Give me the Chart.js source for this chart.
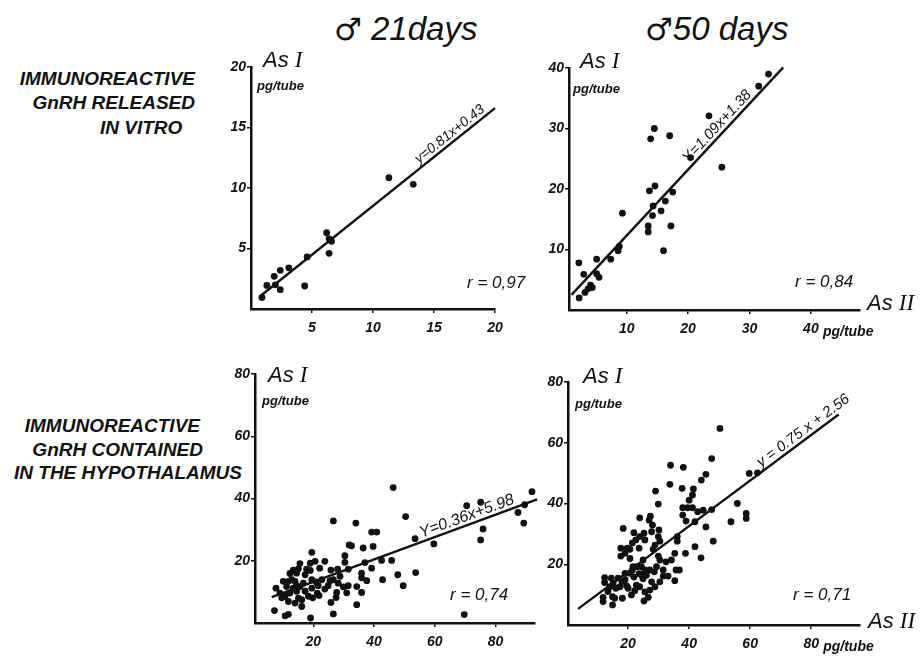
<!DOCTYPE html>
<html>

<head>
  <title>GnRH As I / As II</title>
  <script src="https://cdn.jsdelivr.net/npm/chart.js@4.4.0/dist/chart.umd.min.js"></script>
  <style>
    body { margin: 0; background: #fff; overflow: hidden; }
    #page { position: relative; width: 921px; height: 657px; overflow: hidden; font-family: "Liberation Sans", Arial, sans-serif; }
    #page canvas { position: absolute; }
    .lbl { position: absolute; white-space: nowrap; font-style: italic; font-weight: bold; font-size: 19px; color: #111; text-align: right; }
    .ttl { position: absolute; white-space: nowrap; font-style: italic; font-size: 33px; color: #111; }
    .ttl span { font-family: "DejaVu Sans"; font-style: normal; font-size: 31px; }
  </style>
</head>

<body>
  <div id="page">
    <div class="ttl" style="left:334px; top:10px;"><span>♂</span> 21days</div>
    <div class="ttl" style="left:645px; top:10px;"><span>♂</span>50 days</div>

    <div class="lbl" style="right:726px; top:68px;">IMMUNOREACTIVE</div>
    <div class="lbl" style="right:726px; top:92px;">GnRH RELEASED</div>
    <div class="lbl" style="left:100px; top:117px;">IN VITRO</div>

    <div class="lbl" style="right:721px; top:415px;">IMMUNOREACTIVE</div>
    <div class="lbl" style="right:718px; top:439px;">GnRH CONTAINED</div>
    <div class="lbl" style="right:679px; top:462px;">IN THE HYPOTHALAMUS</div>
  </div>

  <script>
    // 21 jours, GnRH libérée in vitro
    const p1X = [0.9, 1.3, 1.9, 2.0, 2.4, 2.4, 3.1, 4.4, 4.6, 6.2, 6.4, 6.6, 6.4, 11.3, 13.3];
    const p1Y = [0.95, 1.95, 2.7, 2.0, 3.2, 1.6, 3.4, 1.9, 4.3, 6.3, 5.8, 5.6, 4.6, 10.85, 10.3];
    const p1Fit = [[0.8, 1.1], [20, 16.6]];

    // 50 jours, GnRH libérée in vitro
    const p2X = [2.2, 2.25, 3.0, 3.2, 3.7, 4.1, 4.4, 5.1, 5.1, 5.5, 7.4, 8.6, 8.8, 9.3, 13.5, 13.5, 13.7,
      13.9, 14.5, 14.6, 14.2, 14.3, 15.6, 16.0, 16.3, 17.0, 17.2, 17.5, 20.4, 23.4, 25.5, 31.5, 33.1];
    const p2Y = [7.8, 2.0, 5.9, 2.9, 3.5, 4.1, 3.7, 8.4, 6.0, 5.4, 8.4, 9.8, 10.5, 16.0, 13.9, 12.9, 19.7,
      28.3, 30.0, 20.5, 15.6, 17.2, 16.4, 9.8, 18.0, 28.8, 13.9, 19.5, 25.2, 32.1, 23.6, 37.0, 39.0];
    const p2Fit = [[1.0, 2.5], [35.5, 40.1]];

    // 21 jours, GnRH hypothalamique
    const p3X = [46.3, 92.0, 70.5, 75.1, 89.6, 87.4, 89.3, 75.9, 75.1, 59.7, 53.5, 50.4, 45.8, 42.5, 42.8,
      47.8, 49.6, 53.7, 69.7, 39.2, 40.9, 39.7, 36.4, 34.0, 26.6, 31.8, 32.6, 30.4, 30.4, 37.0, 39.2, 35.9,
      35.9, 37.6, 35.9, 34.3, 34.3, 31.5, 31.5, 29.9, 28.2, 28.8, 28.0, 26.6, 27.7, 27.5, 25.8, 25.5, 24.9,
      25.8, 26.6, 23.8, 22.8, 22.1, 21.6, 21.9, 21.3, 20.9, 19.5, 19.5, 19.8, 19.1, 19.0, 20.6, 19.5, 19.0,
      17.8, 17.3, 16.7, 16.2, 16.2, 15.6, 15.1, 14.5, 14.5, 14.0, 13.4, 12.9, 12.3, 11.8, 11.8, 10.7, 11.2,
      10.7, 10.1, 9.6, 9.0, 7.7, 7.2, 12.3, 13.4, 15.6, 11.8, 14.0, 15.1, 14.5, 18.4, 23.8, 31.0, 17.3];
    const p3Y = [43.5, 42.2, 37.7, 38.8, 38.0, 35.5, 32.1, 30.2, 26.7, 25.4, 27.1, 34.2, 20.1, 20.1, 13.9,
      15.5, 12.0, 16.2, 2.7, 29.2, 29.2, 24.6, 24.1, 32.1, 32.8, 25.1, 24.8, 21.6, 19.5, 19.4, 17.6, 16.0,
      14.5, 13.6, 9.8, 11.7, 5.9, 17.3, 12.0, 11.6, 12.8, 15.0, 17.3, 13.9, 9.8, 8.2, 17.0, 13.6, 12.0,
      6.6, 2.9, 10.9, 13.9, 17.6, 12.0, 8.8, 9.6, 13.2, 13.9, 11.2, 8.1, 1.6, 16.9, 19.8, 22.7, 19.2,
      17.3, 15.5, 12.8, 5.3, 7.5, 19.1, 17.4, 12.0, 10.2, 6.4, 11.2, 13.9, 9.6, 6.9, 2.8, 2.3, 11.7,
      8.6, 13.4, 8.1, 9.6, 11.2, 4.0, 15.9, 17.0, 11.7, 13.4, 13.4, 8.0, 16.0, 8.6, 19.8, 9.7, 10.2];
    const p3Fit = [[6.3, 8.3], [93.7, 39.7]];

    // 50 jours, GnRH hypothalamique
    const p4X = [50.1, 47.4, 33.9, 38.1, 45.5, 44.0, 33.7, 59.7, 62.4, 29.0, 37.7, 41.4, 41.1, 40.0, 29.9,
      37.9, 39.5, 41.1, 42.8, 44.6, 47.4, 55.8, 58.7, 58.7, 53.7, 37.9, 39.0, 41.9, 45.5, 47.9, 41.9, 43.9,
      38.8, 36.1, 36.1, 35.3, 35.7, 35.3, 36.8, 33.1, 31.5, 32.4, 34.2, 30.4, 29.9, 28.8, 30.1, 29.9, 30.4,
      28.0, 26.9, 27.3, 27.7, 28.2, 27.1, 28.6, 29.3, 30.4, 28.8, 27.7, 27.1, 26.0, 25.5, 24.9, 24.4, 23.8,
      25.2, 22.7, 21.9, 23.6, 24.9, 23.8, 23.8, 25.2, 25.5, 23.6, 22.5, 21.9, 21.4, 20.6, 20.6, 19.7, 19.0,
      17.6, 17.6, 18.4, 21.4, 20.6, 19.5, 19.0, 18.0, 17.3, 16.7, 16.0, 15.1, 14.5, 14.0, 13.4, 12.3, 12.3,
      11.8, 11.8, 14.9, 14.9, 15.6, 18.1, 21.1, 19.0, 21.6, 22.9, 20.0, 26.6, 25.5, 22.2, 24.4, 31.5];
    const p4Y = [64.7, 54.8, 52.6, 51.9, 49.6, 47.7, 46.3, 49.9, 50.1, 44.1, 45.0, 44.8, 42.8, 41.1, 39.8,
      38.6, 38.6, 38.6, 37.3, 37.8, 38.0, 40.0, 36.7, 35.1, 34.0, 36.2, 34.2, 34.0, 32.3, 27.6, 25.8, 22.1,
      23.6, 29.1, 27.6, 23.6, 18.1, 14.6, 18.1, 16.1, 16.1, 20.8, 21.4, 21.4, 22.7, 26.3, 31.3, 29.1, 27.6,
      32.9, 34.5, 35.8, 30.7, 24.9, 18.1, 17.5, 19.2, 14.2, 12.6, 14.2, 11.5, 16.4, 18.1, 21.4, 19.2, 12.6,
      7.9, 13.1, 15.8, 16.9, 15.2, 29.1, 35.3, 30.2, 28.0, 25.3, 28.0, 30.4, 27.0, 24.9, 21.9, 25.3, 23.6,
      25.3, 22.7, 31.8, 18.1, 17.0, 12.9, 14.9, 14.3, 12.6, 15.4, 12.1, 13.8, 15.4, 12.6, 11.0, 15.6, 14.0,
      9.1, 7.7, 9.3, 6.6, 8.8, 8.8, 9.9, 17.0, 19.2, 19.2, 12.1, 9.1, 10.9, 11.3, 16.4, 18.1];
    const p4Fit = [[3.6, 5.3], [89, 69.3]];

    // graduations
    const p1XTicks = [5, 10, 15, 20], p1YTicks = [5, 10, 15, 20];
    const p2XTicks = [10, 20, 30, 40], p2YTicks = [10, 20, 30, 40];
    const p3XTicks = [20, 40, 60, 80], p3YTicks = [20, 40, 60, 80];
    const p4XTicks = [20, 40, 60, 80], p4YTicks = [20, 40, 60, 80];

    const eqTexts = ['y=0.81x+0.43', 'Y=1.09x+1.38', 'Y=0.36x+5.98', 'y = 0.75 x + 2.56'];
    const rTexts = ['r = 0,97', 'r = 0,84', 'r = 0,74', 'r = 0,71'];

    const yW = 40, xH = 30, padTop = 40, padRight = 70;

    // textes autour de chaque graphe
    const panelText = {
      id: 'panelText',
      afterDraw(chart, args, o) {
        const { ctx, chartArea: a, scales: { x, y } } = chart;
        ctx.save();
        ctx.fillStyle = '#111';
        ctx.textBaseline = 'alphabetic';
        ctx.textAlign = 'left';

        // As I
        ctx.font = 'italic 22px "Liberation Sans"';
        ctx.fillText('As', a.left + o.as[0], a.top + o.as[1]);
        let w = ctx.measureText('As ').width;
        ctx.font = 'italic 23px "Liberation Serif"';
        ctx.fillText('I', a.left + o.as[0] + w, a.top + o.as[1]);

        ctx.font = 'italic bold 13px "Liberation Sans"';
        ctx.fillText('pg/tube', a.left + o.pg[0], a.top + o.pg[1]);

        // r
        ctx.font = 'italic 17px "Liberation Sans"';
        ctx.fillText(o.r, a.right + o.rPos[0], a.bottom + o.rPos[1]);

        // As II et unité de l'axe x
        if (o.as2) {
          ctx.font = 'italic 22px "Liberation Sans"';
          ctx.fillText('As', a.right + o.as2[0], a.bottom + o.as2[1]);
          w = ctx.measureText('As ').width;
          ctx.font = 'italic 23px "Liberation Serif"';
          ctx.fillText('II', a.right + o.as2[0] + w, a.bottom + o.as2[1]);
          ctx.font = 'italic bold 14px "Liberation Sans"';
          ctx.fillText('pg/tube', x.getPixelForValue(o.unitAt) + 12, a.bottom + 26);
        }

        // équation de la droite
        const x1 = x.getPixelForValue(o.fit[0][0]), y1 = y.getPixelForValue(o.fit[0][1]);
        const x2 = x.getPixelForValue(o.fit[1][0]), y2 = y.getPixelForValue(o.fit[1][1]);
        const cx = x.getPixelForValue(o.eqAt);
        const cy = y1 + (cx - x1) / (x2 - x1) * (y2 - y1);
        ctx.translate(cx, cy);
        ctx.rotate(Math.atan2(y2 - y1, x2 - x1));
        ctx.font = 'italic ' + o.eqSize + 'px "Liberation Sans"';
        ctx.textAlign = 'center';
        ctx.fillText(o.eq, 0, -4);
        ctx.restore();
      }
    };

    const panels = [
      { xs: p1X, ys: p1Y, fit: p1Fit, xt: p1XTicks, yt: p1YTicks, xr: [0, 20], yr: [0, 20],
        box: [251, 67, 495, 309], eqAt: 16.7, eqSize: 14, as: [12, 0], pg: [6, 23], rPos: [-28, -21] },
      { xs: p2X, ys: p2Y, fit: p2Fit, xt: p2XTicks, yt: p2YTicks, xr: [0.6, 48], yr: [0, 40],
        box: [569, 68, 860, 310], eqAt: 25.7, eqSize: 15, as: [11, 0], pg: [4, 25], rPos: [-65, -23],
        as2: [7, 0], unitAt: 40 },
      { xs: p3X, ys: p3Y, fit: p3Fit, xt: p3XTicks, yt: p3YTicks, xr: [0.8, 93], yr: [0, 80],
        box: [255, 374, 535, 623], eqAt: 71.5, eqSize: 16, as: [13, 8], pg: [7, 31], rPos: [-85, -23] },
      { xs: p4X, ys: p4Y, fit: p4Fit, xt: p4XTicks, yt: p4YTicks, xr: [0.3, 96], yr: [0, 80],
        box: [568, 382, 860, 625], eqAt: 79, eqSize: 15, as: [15, 1], pg: [7, 26], rPos: [-67, -25],
        as2: [8, 3], unitAt: 80 }
    ];

    const page = document.getElementById('page');

    panels.forEach((p, i) => {
      const [l, t, r, b] = p.box;
      const canvas = document.createElement('canvas');
      canvas.width = (r - l) + yW + padRight;
      canvas.height = (b - t) + padTop + xH;
      canvas.style.left = (l - yW) + 'px';
      canvas.style.top = (t - padTop) + 'px';
      page.appendChild(canvas);

      const tickFont = { family: 'Liberation Sans', size: 14, style: 'italic', weight: 'bold' };

      new Chart(canvas, {
        type: 'scatter',
        data: {
          datasets: [
            {
              data: p.xs.map((v, k) => ({ x: v, y: p.ys[k] })),
              pointRadius: 3.4,
              pointBackgroundColor: '#111',
              pointBorderWidth: 0,
              clip: false
            },
            {
              type: 'line',
              data: p.fit.map(d => ({ x: d[0], y: d[1] })),
              borderColor: '#111',
              borderWidth: 2.4,
              pointRadius: 0,
              fill: false,
              clip: false
            }
          ]
        },
        options: {
          responsive: false,
          animation: false,
          devicePixelRatio: 1,
          layout: { padding: { top: padTop, right: padRight, left: 0, bottom: 0 } },
          plugins: {
            legend: { display: false },
            tooltip: { enabled: false },
            panelText: {
              fit: p.fit, eqAt: p.eqAt, eqSize: p.eqSize, eq: eqTexts[i], r: rTexts[i],
              as: p.as, pg: p.pg, rPos: p.rPos, as2: p.as2, unitAt: p.unitAt
            }
          },
          scales: {
            x: {
              type: 'linear',
              min: p.xr[0],
              max: p.xr[1],
              afterBuildTicks: s => { s.ticks = p.xt.map(v => ({ value: v })); },
              afterFit: s => { s.height = xH; },
              border: { color: '#111', width: 2.5 },
              grid: { drawOnChartArea: false, color: '#111', lineWidth: 1.5, tickLength: 4 },
              ticks: { color: '#111', font: tickFont, padding: 7, autoSkip: false, maxRotation: 0 }
            },
            y: {
              type: 'linear',
              min: p.yr[0],
              max: p.yr[1],
              afterBuildTicks: s => { s.ticks = p.yt.map(v => ({ value: v })); },
              afterFit: s => { s.width = yW; },
              border: { color: '#111', width: 2.5 },
              grid: { drawOnChartArea: false, color: '#111', lineWidth: 1.5, tickLength: 4 },
              ticks: { color: '#111', font: tickFont, padding: 1, autoSkip: false }
            }
          }
        },
        plugins: [panelText]
      });
    });
  </script>
</body>

</html>
